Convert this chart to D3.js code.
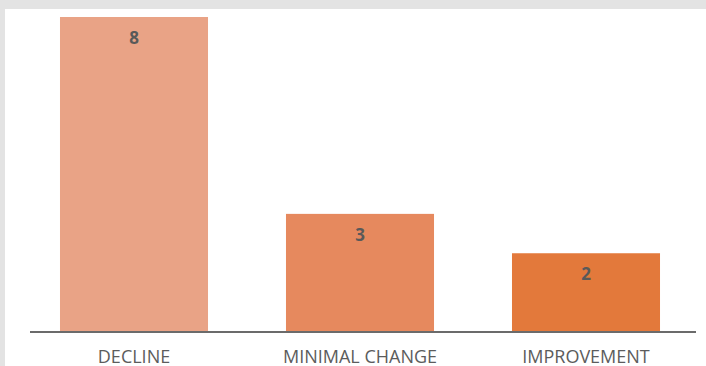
<!DOCTYPE html>
<html>
<head>
<meta charset="utf-8">
<script src="https://cdn.jsdelivr.net/npm/d3@7"></script>
<style>
  html, body { margin: 0; padding: 0; background: #e3e3e3; }
  svg { display: block; }
</style>
</head>
<body>
<script>
    // Chart data
    var categories = ["DECLINE", "MINIMAL CHANGE", "IMPROVEMENT"];
    var values = [8, 3, 2];
    var colors = ["#e9a386", "#e6895e", "#e3793b"];

    var w = 706;
    var h = 366;

    var svg = d3.select("body")
        .append("svg")
        .attr("width", w)
        .attr("height", h);

    // White panel
    svg.append("rect")
        .attr("x", 5)
        .attr("y", 9)
        .attr("width", w - 5)
        .attr("height", h - 9)
        .attr("fill", "#ffffff");

    var xScale = d3.scaleBand()
        .domain(categories)
        .range([21, 699])
        .paddingInner(0.345)
        .paddingOuter(0.1725);

    var yScale = d3.scaleLinear()
        .domain([0, 8])
        .range([332, 17]);

    // Bars
    svg.selectAll("rect.bar")
        .data(values)
        .enter()
        .append("rect")
        .attr("class", "bar")
        .attr("x", function(d, i) { return xScale(categories[i]); })
        .attr("y", function(d) { return yScale(d); })
        .attr("width", xScale.bandwidth())
        .attr("height", function(d) { return yScale(0) - yScale(d); })
        .attr("fill", function(d, i) { return colors[i]; });

    // Value labels inside bars
    svg.selectAll("text.value")
        .data(values)
        .enter()
        .append("text")
        .attr("class", "value")
        .attr("x", function(d, i) { return xScale(categories[i]) + xScale.bandwidth() / 2; })
        .attr("y", function(d) { return yScale(d) + 27; })
        .attr("text-anchor", "middle")
        .attr("font-family", "'Open Sans', sans-serif")
        .attr("font-weight", "bold")
        .attr("font-size", "17px")
        .attr("fill", "#595959")
        .text(function(d) { return d; });

    // X axis
    var xAxis = d3.axisBottom(xScale).tickSize(0).tickPadding(18);
    var gx = svg.append("g")
        .attr("transform", "translate(0," + yScale(0) + ")")
        .call(xAxis);
    gx.select(".domain")
        .attr("d", "M30,0H696")
        .attr("stroke", "#6b6b6b")
        .attr("stroke-width", 2);
    gx.selectAll("text")
        .attr("font-family", "'Open Sans', sans-serif")
        .attr("font-size", "18px")
        .attr("fill", "#5c5c5c");
</script>
</body>
</html>
